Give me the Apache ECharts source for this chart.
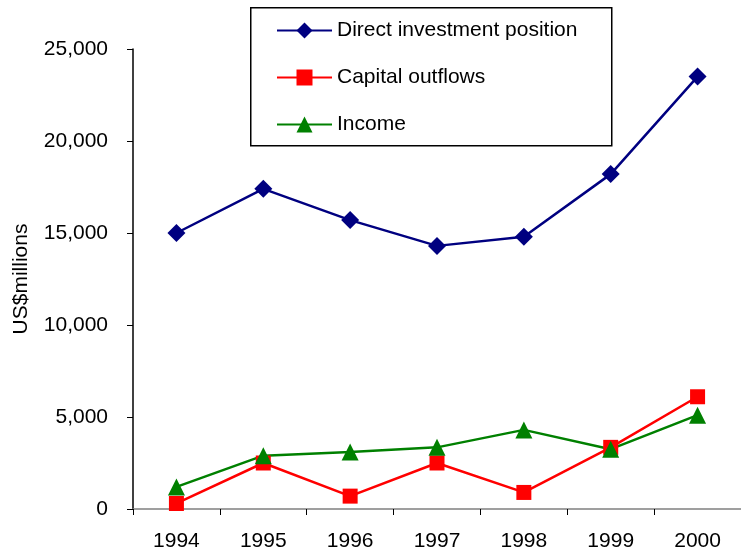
<!DOCTYPE html>
<html>
<head>
<meta charset="UTF-8">
<title>US$millions</title>
<script src="https://cdn.jsdelivr.net/npm/echarts@6/dist/echarts.min.js"></script>
<style>
  html, body { margin: 0; padding: 0; background: #fff; }
  #main { width: 741px; height: 552px; }
</style>
</head>
<body>
<div id="main"></div>
<script>
var years = ['1994', '1995', '1996', '1997', '1998', '1999', '2000'];
var directInvestment = [15000, 17400, 15700, 14300, 14800, 18200, 23500];
var capitalOutflows = [300, 2500, 700, 2500, 900, 3350, 6100];
var income = [1200, 2900, 3100, 3350, 4300, 3250, 5100];

var font = 'Liberation Sans, Arial, sans-serif';
var myChart = echarts.init(document.getElementById('main'));

var option = {
  animation: false,
  textStyle: { fontFamily: font },
  grid: { left: 133, right: -6, top: 49, bottom: 43 },
  graphic: [
    {
      type: 'rect',
      left: 250, top: 7,
      shape: { width: 361, height: 138 },
      style: { fill: '#fff', stroke: '#000', lineWidth: 1.5 },
      z: 1
    }
  ],
  legend: {
    orient: 'vertical',
    left: 271, top: 15,
    itemWidth: 55, itemHeight: 20,
    itemGap: 26,
    z: 5,
    textStyle: { fontSize: 21, color: '#000', fontFamily: font },
    data: ['Direct investment position', 'Capital outflows', 'Income']
  },
  xAxis: {
    type: 'category',
    data: years,
    boundaryGap: true,
    axisLine: { lineStyle: { color: '#808080', width: 1.5 } },
    axisTick: { show: true, length: 6, lineStyle: { color: '#000' } },
    axisLabel: { fontSize: 21, color: '#000', margin: 22 }
  },
  yAxis: {
    type: 'value',
    min: 0, max: 25000, interval: 5000,
    name: 'US$millions',
    nameLocation: 'middle',
    nameGap: 101,
    nameTextStyle: { fontSize: 21, color: '#000', fontFamily: font },
    axisLine: { show: true, lineStyle: { color: '#000', width: 1.5 } },
    axisTick: { show: true, length: 6, lineStyle: { color: '#000' } },
    splitLine: { show: false },
    axisLabel: {
      fontSize: 21, color: '#000', margin: 25,
      formatter: function (v) { return v.toLocaleString('en-US'); }
    }
  },
  series: [
    {
      name: 'Direct investment position',
      type: 'line',
      data: directInvestment,
      symbol: 'diamond', symbolSize: 18,
      itemStyle: { color: '#000080' },
      lineStyle: { color: '#000080', width: 2.5 }
    },
    {
      name: 'Capital outflows',
      type: 'line',
      data: capitalOutflows,
      symbol: 'rect', symbolSize: 15,
      itemStyle: { color: '#ff0000' },
      lineStyle: { color: '#ff0000', width: 2.5 }
    },
    {
      name: 'Income',
      type: 'line',
      data: income,
      symbol: 'triangle', symbolSize: 17,
      itemStyle: { color: '#008000' },
      lineStyle: { color: '#008000', width: 2.5 }
    }
  ]
};

myChart.setOption(option);
</script>
</body>
</html>
